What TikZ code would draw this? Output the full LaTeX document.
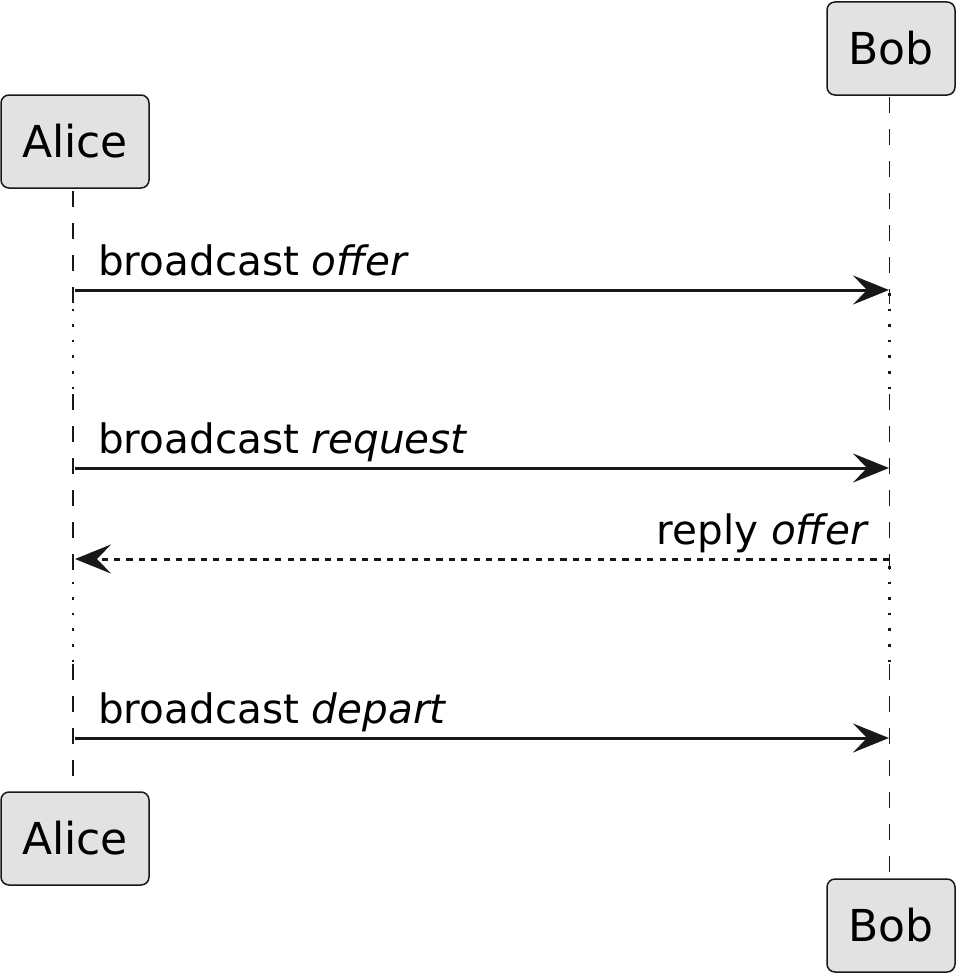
\documentclass[tikz,border=0pt]{standalone}
\usepackage{fontspec}
\setmainfont{DejaVu Sans}
\usetikzlibrary{arrows.meta}
\definecolor{ln}{HTML}{181818}
\definecolor{pf}{HTML}{E2E2E2}
\tikzset{
  part/.style={draw=ln, fill=pf, rounded corners=8pt, line width=1.5pt, inner sep=0pt,
    minimum height=93pt, font=\fontsize{44}{50}\selectfont, text=black},
  lifedash/.style={draw=ln, line width=1.5pt, dash pattern=on 16pt off 16pt},
  lifedot/.style={draw=ln, line width=2.5pt, dash pattern=on 2.5pt off 13.1pt},
  msg/.style={draw=ln, line width=3pt, -{Stealth[length=36pt, width=29pt, inset=14pt]}},
  reply/.style={msg, dash pattern=on 6.2pt off 6.2pt},
  lbl/.style={font=\fontsize{40.5}{46}\selectfont, inner sep=0pt, text=black}
}
\begin{document}
\begin{tikzpicture}[x=1pt, y=-1pt]
\useasboundingbox (0,0) rectangle (956,974);
% participants
\node[part, minimum width=148pt] (at) at (75,141.5) {Alice};
\node[part, minimum width=128pt] (bt) at (891,48.5) {Bob};
\node[part, minimum width=148pt] (ab) at (75,838.5) {Alice};
\node[part, minimum width=128pt] (bb) at (891,925.5) {Bob};
% lifeline points
\coordinate (a0) at (73,191);
\coordinate (a1) at (73,304);
\coordinate (a2) at (73,398);
\coordinate (a3) at (73,575);
\coordinate (a4) at (73,668);
\coordinate (a5) at (73,792);
\coordinate (b0) at (889.5,97);
\coordinate (b1) at (889.5,304);
\coordinate (b2) at (889.5,398);
\coordinate (b3) at (889.5,575);
\coordinate (b4) at (889.5,668);
\coordinate (b5) at (889.5,879);
\draw[lifedash] (a0) -- (a1);
\draw[lifedot] ([yshift=11pt]a1) -- (a2);
\draw[lifedash] ([yshift=4pt]a2) -- (a3);
\draw[lifedot] ([yshift=9pt]a3) -- (a4);
\draw[lifedash] ([yshift=4pt]a4) -- (a5);
\draw[lifedash] (b0) -- (b1);
\draw[lifedot] ([yshift=11pt]b1) -- (b2);
\draw[lifedash] ([yshift=4pt]b2) -- (b3);
\draw[lifedot] ([yshift=9pt]b3) -- (b4);
\draw[lifedash] ([yshift=4pt]b4) -- (b5);
% messages
\coordinate (m1a) at (75,290);   \coordinate (m1b) at (889,290);
\coordinate (m2a) at (75,468);   \coordinate (m2b) at (889,468);
\coordinate (m3a) at (75,559);   \coordinate (m3b) at (889,559);
\coordinate (m4a) at (75,738);   \coordinate (m4b) at (889,738);
\draw[msg] (m1a) -- (m1b);
\draw[msg] (m2a) -- (m2b);
\draw[reply] (m3b) -- (m3a);
\draw[msg] (m4a) -- (m4b);
\node[lbl, anchor=base west] (l1) at (98,275) {broadcast \textit{offer}};
\node[lbl, anchor=base west] (l2) at (98,453) {broadcast \textit{request}};
\node[lbl, anchor=base east] (l3) at (869,544) {reply \textit{offer}};
\node[lbl, anchor=base west] (l4) at (98,723) {broadcast \textit{depart}};
\end{tikzpicture}
\end{document}
